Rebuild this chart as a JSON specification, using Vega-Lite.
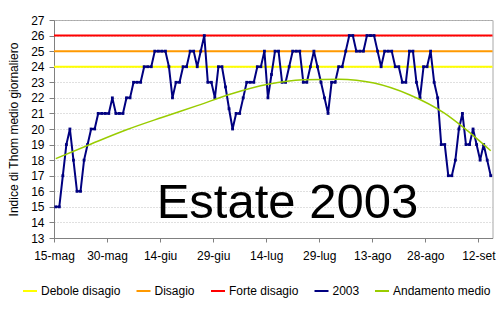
{
  "$schema": "https://vega.github.io/schema/vega-lite/v6.json",
  "width": 438.5,
  "height": 218,
  "autosize": {"type": "none"},
  "padding": {"left": 54, "top": 20, "right": 7.5, "bottom": 73},
  "background": "white",
  "datasets": {
    "obs": [
      {"date": "2003-05-15T12:00", "value": 15}, {"date": "2003-05-16T12:00", "value": 15},
      {"date": "2003-05-17T12:00", "value": 17}, {"date": "2003-05-18T12:00", "value": 19},
      {"date": "2003-05-19T12:00", "value": 20}, {"date": "2003-05-20T12:00", "value": 18},
      {"date": "2003-05-21T12:00", "value": 16}, {"date": "2003-05-22T12:00", "value": 16},
      {"date": "2003-05-23T12:00", "value": 18}, {"date": "2003-05-24T12:00", "value": 19},
      {"date": "2003-05-25T12:00", "value": 20}, {"date": "2003-05-26T12:00", "value": 20},
      {"date": "2003-05-27T12:00", "value": 21}, {"date": "2003-05-28T12:00", "value": 21},
      {"date": "2003-05-29T12:00", "value": 21}, {"date": "2003-05-30T12:00", "value": 21},
      {"date": "2003-05-31T12:00", "value": 22},
      {"date": "2003-06-01T12:00", "value": 21}, {"date": "2003-06-02T12:00", "value": 21},
      {"date": "2003-06-03T12:00", "value": 21}, {"date": "2003-06-04T12:00", "value": 22},
      {"date": "2003-06-05T12:00", "value": 22}, {"date": "2003-06-06T12:00", "value": 23},
      {"date": "2003-06-07T12:00", "value": 23}, {"date": "2003-06-08T12:00", "value": 23},
      {"date": "2003-06-09T12:00", "value": 24}, {"date": "2003-06-10T12:00", "value": 24},
      {"date": "2003-06-11T12:00", "value": 24}, {"date": "2003-06-12T12:00", "value": 25},
      {"date": "2003-06-13T12:00", "value": 25}, {"date": "2003-06-14T12:00", "value": 25},
      {"date": "2003-06-15T12:00", "value": 25}, {"date": "2003-06-16T12:00", "value": 24},
      {"date": "2003-06-17T12:00", "value": 22}, {"date": "2003-06-18T12:00", "value": 23},
      {"date": "2003-06-19T12:00", "value": 23}, {"date": "2003-06-20T12:00", "value": 24},
      {"date": "2003-06-21T12:00", "value": 24}, {"date": "2003-06-22T12:00", "value": 25},
      {"date": "2003-06-23T12:00", "value": 25}, {"date": "2003-06-24T12:00", "value": 24},
      {"date": "2003-06-25T12:00", "value": 25}, {"date": "2003-06-26T12:00", "value": 26},
      {"date": "2003-06-27T12:00", "value": 23}, {"date": "2003-06-28T12:00", "value": 23},
      {"date": "2003-06-29T12:00", "value": 22}, {"date": "2003-06-30T12:00", "value": 24},
      {"date": "2003-07-01T12:00", "value": 24}, {"date": "2003-07-02T12:00", "value": 22.7},
      {"date": "2003-07-03T12:00", "value": 21.3}, {"date": "2003-07-04T12:00", "value": 20},
      {"date": "2003-07-05T12:00", "value": 21}, {"date": "2003-07-06T12:00", "value": 21},
      {"date": "2003-07-07T12:00", "value": 22}, {"date": "2003-07-08T12:00", "value": 23},
      {"date": "2003-07-09T12:00", "value": 23}, {"date": "2003-07-10T12:00", "value": 23},
      {"date": "2003-07-11T12:00", "value": 24}, {"date": "2003-07-12T12:00", "value": 24},
      {"date": "2003-07-13T12:00", "value": 25}, {"date": "2003-07-14T12:00", "value": 22},
      {"date": "2003-07-15T12:00", "value": 23.5}, {"date": "2003-07-16T12:00", "value": 25},
      {"date": "2003-07-17T12:00", "value": 25}, {"date": "2003-07-18T12:00", "value": 23},
      {"date": "2003-07-19T12:00", "value": 23}, {"date": "2003-07-20T12:00", "value": 24},
      {"date": "2003-07-21T12:00", "value": 25}, {"date": "2003-07-22T12:00", "value": 25},
      {"date": "2003-07-23T12:00", "value": 25}, {"date": "2003-07-24T12:00", "value": 23},
      {"date": "2003-07-25T12:00", "value": 23}, {"date": "2003-07-26T12:00", "value": 24},
      {"date": "2003-07-27T12:00", "value": 25}, {"date": "2003-07-28T12:00", "value": 24},
      {"date": "2003-07-29T12:00", "value": 23}, {"date": "2003-07-30T12:00", "value": 22},
      {"date": "2003-07-31T12:00", "value": 21},
      {"date": "2003-08-01T12:00", "value": 23}, {"date": "2003-08-02T12:00", "value": 23},
      {"date": "2003-08-03T12:00", "value": 24}, {"date": "2003-08-04T12:00", "value": 24},
      {"date": "2003-08-05T12:00", "value": 25}, {"date": "2003-08-06T12:00", "value": 26},
      {"date": "2003-08-07T12:00", "value": 26}, {"date": "2003-08-08T12:00", "value": 25},
      {"date": "2003-08-09T12:00", "value": 25}, {"date": "2003-08-10T12:00", "value": 25},
      {"date": "2003-08-11T12:00", "value": 26}, {"date": "2003-08-12T12:00", "value": 26},
      {"date": "2003-08-13T12:00", "value": 26}, {"date": "2003-08-14T12:00", "value": 25},
      {"date": "2003-08-15T12:00", "value": 24}, {"date": "2003-08-16T12:00", "value": 25},
      {"date": "2003-08-17T12:00", "value": 25}, {"date": "2003-08-18T12:00", "value": 25},
      {"date": "2003-08-19T12:00", "value": 24}, {"date": "2003-08-20T12:00", "value": 24},
      {"date": "2003-08-21T12:00", "value": 23}, {"date": "2003-08-22T12:00", "value": 23},
      {"date": "2003-08-23T12:00", "value": 25}, {"date": "2003-08-24T12:00", "value": 25},
      {"date": "2003-08-25T12:00", "value": 23}, {"date": "2003-08-26T12:00", "value": 22},
      {"date": "2003-08-27T12:00", "value": 24}, {"date": "2003-08-28T12:00", "value": 24},
      {"date": "2003-08-29T12:00", "value": 25}, {"date": "2003-08-30T12:00", "value": 23},
      {"date": "2003-08-31T12:00", "value": 22},
      {"date": "2003-09-01T12:00", "value": 19}, {"date": "2003-09-02T12:00", "value": 19},
      {"date": "2003-09-03T12:00", "value": 17}, {"date": "2003-09-04T12:00", "value": 17},
      {"date": "2003-09-05T12:00", "value": 18}, {"date": "2003-09-06T12:00", "value": 20},
      {"date": "2003-09-07T12:00", "value": 21}, {"date": "2003-09-08T12:00", "value": 19},
      {"date": "2003-09-09T12:00", "value": 19}, {"date": "2003-09-10T12:00", "value": 20},
      {"date": "2003-09-11T12:00", "value": 19}, {"date": "2003-09-12T12:00", "value": 18},
      {"date": "2003-09-13T12:00", "value": 19}, {"date": "2003-09-14T12:00", "value": 18},
      {"date": "2003-09-15T12:00", "value": 17}
    ],
    "trend": [
      {"date": "2003-05-15T12:00", "value": 18.1},
      {"date": "2003-05-25T12:00", "value": 19.04},
      {"date": "2003-06-04T12:00", "value": 19.95},
      {"date": "2003-06-14T12:00", "value": 20.74},
      {"date": "2003-06-24T12:00", "value": 21.5},
      {"date": "2003-07-04T12:00", "value": 22.28},
      {"date": "2003-07-14T12:00", "value": 22.87},
      {"date": "2003-07-24T12:00", "value": 23.16},
      {"date": "2003-08-03T12:00", "value": 23.2},
      {"date": "2003-08-13T12:00", "value": 22.95},
      {"date": "2003-08-23T12:00", "value": 22.2},
      {"date": "2003-09-02T12:00", "value": 21.0},
      {"date": "2003-09-07T12:00", "value": 20.15},
      {"date": "2003-09-15T12:00", "value": 18.6}
    ],
    "thresholds": [
      {"series": "Debole disagio", "value": 24},
      {"series": "Disagio", "value": 25},
      {"series": "Forte disagio", "value": 26}
    ],
    "caption": [
      {"date": "2003-07-20T00:00", "value": 14.26, "text": "Estate 2003"}
    ]
  },
  "encoding": {
    "x": {
      "field": "date",
      "type": "temporal",
      "scale": {"domain": [{"year": 2003, "month": 5, "date": 15}, {"year": 2003, "month": 9, "date": 16}]},
      "axis": {
        "title": null,
        "grid": false,
        "values": [
          {"year": 2003, "month": 5, "date": 15}, {"year": 2003, "month": 5, "date": 30},
          {"year": 2003, "month": 6, "date": 14}, {"year": 2003, "month": 6, "date": 29},
          {"year": 2003, "month": 7, "date": 14}, {"year": 2003, "month": 7, "date": 29},
          {"year": 2003, "month": 8, "date": 13}, {"year": 2003, "month": 8, "date": 28},
          {"year": 2003, "month": 9, "date": 12}
        ],
        "labelExpr": "date(datum.value) + '-' + ['gen','feb','mar','apr','mag','giu','lug','ago','set','ott','nov','dic'][month(datum.value)]",
        "tickSize": 4,
        "labelPadding": 8,
        "labelFlush": false,
        "labelOverlap": false
      }
    },
    "y": {
      "field": "value",
      "type": "quantitative",
      "scale": {"domain": [13, 27], "nice": false, "zero": false},
      "axis": {
        "title": "Indice di Thom medio giornaliero",
        "values": [13, 14, 15, 16, 17, 18, 19, 20, 21, 22, 23, 24, 25, 26, 27],
        "grid": true,
        "gridColor": "#c0c0c0",
        "gridDash": [1, 2],
        "tickSize": 5,
        "labelPadding": 5,
        "titlePadding": 10
      }
    }
  },
  "layer": [
    {
      "data": {"name": "thresholds"},
      "mark": {"type": "rule", "strokeWidth": 2},
      "encoding": {
        "x": null,
        "color": {
          "field": "series",
          "type": "nominal",
          "scale": {
            "domain": ["Debole disagio", "Disagio", "Forte disagio", "2003", "Andamento medio"],
            "range": ["#FFFF00", "#FF9900", "#FF0000", "#000080", "#99CC00"]
          },
          "legend": {
            "title": null,
            "orient": "none",
            "direction": "horizontal",
            "columns": 5,
            "gridAlign": "none",
            "legendX": -32,
            "legendY": 263,
            "symbolType": "stroke",
            "symbolSize": 196,
            "symbolStrokeWidth": 2,
            "labelFont": "Liberation Sans",
            "labelFontSize": 12,
            "labelColor": "#000000",
            "labelOffset": 3,
            "columnPadding": 11.5,
            "padding": 0
          }
        }
      }
    },
    {
      "data": {"name": "obs"},
      "mark": {"type": "line", "strokeWidth": 2},
      "encoding": {"color": {"datum": "2003"}}
    },
    {
      "data": {"name": "obs"},
      "mark": {"type": "point", "shape": "square", "size": 8, "filled": true, "opacity": 1},
      "encoding": {"color": {"datum": "2003"}}
    },
    {
      "data": {"name": "trend"},
      "mark": {"type": "line", "strokeWidth": 1.5, "interpolate": "monotone"},
      "encoding": {"color": {"datum": "Andamento medio"}}
    },
    {
      "data": {"name": "caption"},
      "mark": {"type": "text", "font": "Liberation Sans", "fontSize": 49, "align": "center", "baseline": "alphabetic", "fill": "#000000"},
      "encoding": {
        "text": {"field": "text", "type": "nominal"}
      }
    }
  ],
  "config": {
    "font": "Liberation Sans",
    "view": {"stroke": "#a8a8a8", "strokeWidth": 1},
    "axis": {
      "labelFont": "Liberation Sans",
      "labelFontSize": 12,
      "labelColor": "#000000",
      "titleFont": "Liberation Sans",
      "titleFontSize": 12,
      "titleFontWeight": "normal",
      "titleColor": "#000000",
      "domainColor": "#808080",
      "tickColor": "#808080"
    }
  }
}
